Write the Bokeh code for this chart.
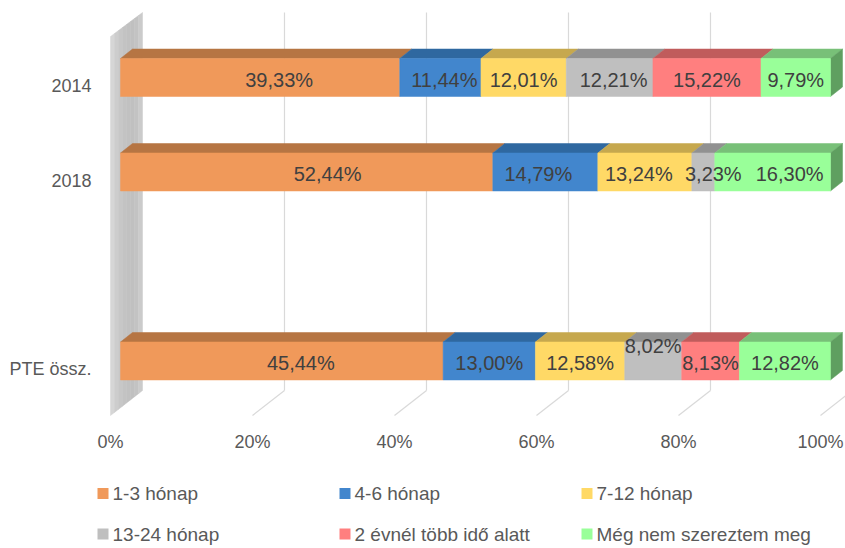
from bokeh.plotting import figure
from bokeh.models import Range1d
from bokeh.core.properties import value
from bokeh.embed import file_html
from bokeh.resources import INLINE

# ---- data ----
categories = ["2014", "2018", "", "PTE össz."]
cat_slots = [0, 1, 3]            # slot 2 is the empty category
cat_labels = ["2014", "2018", "PTE össz."]
series_names = ["1-3 hónap", "4-6 hónap", "7-12 hónap", "13-24 hónap",
                "2 évnél több idő alatt", "Még nem szereztem meg"]
v_1_3 = [39.33, 52.44, 45.44]
v_4_6 = [11.44, 14.79, 13.00]
v_7_12 = [12.01, 13.24, 12.58]
v_13_24 = [12.21, 3.23, 8.02]
v_2ev = [15.22, 0.0, 8.13]
v_meg = [9.79, 16.30, 12.82]
series_values = [v_1_3, v_4_6, v_7_12, v_13_24, v_2ev, v_meg]
tick_values = [0, 20, 40, 60, 80, 100]
tick_labels = ["0%", "20%", "40%", "60%", "80%", "100%"]

# ---- styles ----
front_colors = ["#F0995A", "#4286CD", "#FFD966", "#BFBFBF", "#FF7F7F", "#99FF99"]
top_colors = ["#B67543", "#2F68A0", "#C6A84E", "#919191", "#C05C5C", "#78C078"]
side_color = "#5F9F60"
FONT = value("Liberation Sans")

# pixel geometry helpers (data x = percent, data y = category slot)
SX = 7.1       # px per percent
SY = 94.5      # px per category slot
X0 = 120.0     # page px of 0 %
Y0 = 77.0      # page px of slot 0 centre
OX, OY = 0, 0  # page position of the canvas
W, H = 845, 548

def px_x(dpx):
    return dpx / SX

def px_y(dpx):
    return dpx / SY

def page_y(py):
    return (py - Y0) / SY

def page_x(px):
    return (px - X0) / SX

p = figure(width=W, height=H, output_backend="svg", toolbar_location=None,
           x_range=Range1d(page_x(OX), page_x(OX + W)),
           y_range=Range1d(page_y(OY + H), page_y(OY)),
           min_border=0, outline_line_color=None)
p.axis.visible = False
p.grid.visible = False
p.background_fill_color = "white"
p.border_fill_color = "white"

BACK = px_x(22)      # back plane offset
FRONT = px_x(-10)    # front floor offset
y_top_back = page_y(12)
y_bot_back = page_y(390)
y_top_front = page_y(36)
y_bot_front = page_y(415)

# ---- side wall with gradient strips ----
wall_cols = ["#d6d6d6", "#cdcdcd", "#c7c7c7", "#c3c3c3", "#c1c1c1",
             "#c0c0c0", "#c3c3c3", "#cbcbcb"]
n = len(wall_cols)
for i, c in enumerate(wall_cols):
    f0, f1 = i / n, (i + 1) / n
    xa = FRONT + (BACK - FRONT) * f0
    xb = FRONT + (BACK - FRONT) * f1
    ya_t = y_top_front + (y_top_back - y_top_front) * f0
    yb_t = y_top_front + (y_top_back - y_top_front) * f1
    ya_b = y_bot_front + (y_bot_back - y_bot_front) * f0
    yb_b = y_bot_front + (y_bot_back - y_bot_front) * f1
    p.patch([xa, xb, xb, xa], [ya_t, yb_t, yb_b, ya_b], fill_color=c,
            line_color=c, line_width=0.5)

# ---- back gridlines and floor lines ----
for t in tick_values[1:]:
    p.line([t + BACK, t + BACK], [y_top_back, y_bot_back], line_color="#d9d9d9", line_width=1.2)
    p.line([t + BACK, t + FRONT], [y_bot_back, y_bot_front], line_color="#d9d9d9", line_width=1.2)

# ---- bars ----
HALF = px_y(19)
DX = px_x(12)
DY = px_y(-9.5)
for r, slot in enumerate(cat_slots):
    left = 0.0
    last = max(i for i in range(len(series_values)) if series_values[i][r] > 0)
    for s, vals in enumerate(series_values):
        v = vals[r]
        if v <= 0:
            continue
        right = left + v
        top = slot - HALF
        bot = slot + HALF
        p.patch([left, right, right + DX, left + DX], [top, top, top + DY, top + DY],
                fill_color=top_colors[s], line_color=top_colors[s], line_width=0.5)
        if s == last:
            p.patch([right, right + DX, right + DX, right], [top, top + DY, bot + DY, bot],
                    fill_color=side_color, line_color=side_color, line_width=0.5)
        p.quad(left=left, right=right, top=top, bottom=bot,
               fill_color=front_colors[s], line_color=front_colors[s], line_width=0.5)
        left = right

# ---- data labels ----
nudge_x = {(0, 0): 19, (1, 0): 21, (2, 0): 19, (0, 1): 4, (0, 3): 4,
           (1, 1): -7, (1, 2): -6, (1, 3): 10, (1, 5): 17}
nudge_y = {(2, 3): -17}
for r, slot in enumerate(cat_slots):
    left = 0.0
    for s, vals in enumerate(series_values):
        v = vals[r]
        if v <= 0:
            continue
        cx = left + v / 2 + px_x(nudge_x.get((r, s), 0))
        cy = slot + px_y(2 + nudge_y.get((r, s), 0))
        p.text(x=[cx], y=[cy], text=[f"{v:.2f}".replace(".", ",") + "%"],
               text_font=FONT, text_font_size="20px", text_color="#404040",
               text_align="center", text_baseline="middle")
        left += v

# ---- category labels ----
p.text(x=[page_x(91)] * len(cat_slots), y=[s + px_y(8) for s in cat_slots], text=cat_labels,
       text_font=FONT, text_font_size="18px", text_color="#595959",
       text_align="right", text_baseline="middle")

# ---- tick labels ----
for t, lab in zip(tick_values, tick_labels):
    x, align = t + FRONT, "center"
    if t == tick_values[-1]:
        x, align = page_x(W - 2), "right"
    p.text(x=[x], y=[page_y(441)], text=[lab], text_font=FONT, text_font_size="18px",
           text_color="#595959", text_align=align, text_baseline="middle")

# ---- legend ----
col_px = [97, 339, 581]
row_py = [493, 533.5]
for i, name in enumerate(series_names):
    cx = col_px[i % 3]
    cy = row_py[i // 3]
    p.scatter(x=[page_x(cx + 5.5)], y=[page_y(cy)], marker="square", size=11,
              fill_color=front_colors[i], line_color=None)
    p.text(x=[page_x(cx + 15)], y=[page_y(cy)], text=[name], text_font=FONT,
           text_font_size="19px", text_color="#595959", text_align="left",
           text_baseline="middle")

open("out.html", "w").write(file_html(p, INLINE))
